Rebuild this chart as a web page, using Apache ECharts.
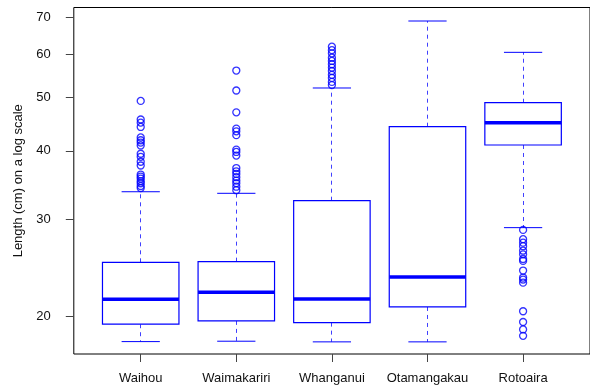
<!DOCTYPE html>
<html>
<head>
<meta charset="utf-8">
<script src="https://cdn.jsdelivr.net/npm/echarts@6/dist/echarts.min.js"></script>
<style>
html,body{margin:0;padding:0;background:#fff;}
#chart{width:590px;height:387px;}
</style>
</head>
<body>
<div id="chart"></div>
<script>
// ---- data ----
const categories = ['Waihou', 'Waimakariri', 'Whanganui', 'Otamangakau', 'Rotoaira'];
const lowerWhisker = [17.96, 17.99, 17.94, 17.94, 28.97];
const quartile1    = [19.32, 19.59, 19.45, 20.77, 40.98];
const medians      = [21.45, 22.09, 21.48, 23.55, 45.0];
const quartile3    = [25.05, 25.12, 32.44, 44.25, 48.93];
const upperWhisker = [33.68, 33.46, 52.05, 68.94, 60.45];

const waihouOut = [49.3, 45.6, 45.0, 44.2, 42.3, 41.8, 41.4, 40.9, 39.5, 39.0, 38.2, 37.6, 36.2, 35.9, 35.6, 35.2, 34.9, 34.5, 34.2];
const waimakaririOut = [56.0, 51.5, 47.0, 43.9, 43.4, 42.7, 40.2, 39.8, 39.2, 37.2, 36.7, 36.3, 35.8, 35.3, 34.9, 34.4, 33.9];
const whanganuiOut = [61.9, 61.0, 60.2, 59.1, 58.3, 57.5, 56.7, 55.9, 55.0, 54.3, 53.4, 52.7];
const otamangakauOut = [];
const rotoairaOut = [28.7, 27.6, 27.2, 26.8, 26.3, 25.9, 25.4, 25.2, 24.2, 23.5, 23.3, 23.0, 20.4, 19.5, 18.9, 18.4];

const yTicks = [20, 30, 40, 50, 60, 70];
const xTicks = [1, 2, 3, 4, 5];

// ---- build ----
const outlierGroups = [waihouOut, waimakaririOut, whanganuiOut, otamangakauOut, rotoairaOut];
const boxData = categories.map((c, i) => [i + 1, lowerWhisker[i], quartile1[i], medians[i], quartile3[i], upperWhisker[i]]);
const outlierData = [];
outlierGroups.forEach((arr, i) => arr.forEach(v => outlierData.push([i + 1, v])));

const BLUE = '#0000FF';
const FONT = 'Liberation Sans, Arial, sans-serif';

function renderBox(params, api) {
  const x = api.value(0);
  const lo = api.value(1), q1 = api.value(2), md = api.value(3), q3 = api.value(4), hi = api.value(5);
  const rawCx = api.coord([x, md])[0];
  const half = api.coord([x + 0.4, md])[0] - rawCx;
  const cx = Math.round(rawCx - 0.5) + 0.5;
  const cap = half / 2;
  const yLo = api.coord([x, lo])[1];
  const yQ1 = api.coord([x, q1])[1];
  const yMd = api.coord([x, md])[1];
  const yQ3 = api.coord([x, q3])[1];
  const yHi = api.coord([x, hi])[1];
  const dashed = { stroke: BLUE, lineWidth: 1, lineDash: [4, 4], opacity: 0.75 };
  const solid = { stroke: BLUE, lineWidth: 1 };
  return {
    type: 'group',
    children: [
      { type: 'line', shape: { x1: cx, y1: yQ3, x2: cx, y2: yHi }, style: dashed },
      { type: 'line', shape: { x1: cx, y1: yQ1, x2: cx, y2: yLo }, style: dashed },
      { type: 'line', shape: { x1: rawCx - cap, y1: yHi, x2: rawCx + cap, y2: yHi }, style: solid },
      { type: 'line', shape: { x1: rawCx - cap, y1: yLo, x2: rawCx + cap, y2: yLo }, style: solid },
      { type: 'rect', shape: { x: rawCx - half, y: yQ3, width: 2 * half, height: yQ1 - yQ3 }, style: { fill: '#fff', stroke: BLUE, lineWidth: 1.2 } },
      { type: 'line', shape: { x1: rawCx - half, y1: yMd, x2: rawCx + half, y2: yMd }, style: { stroke: BLUE, lineWidth: 3.6 } }
    ]
  };
}

const chart = echarts.init(document.getElementById('chart'), null, { renderer: 'canvas' });
chart.setOption({
  animation: false,
  backgroundColor: '#fff',
  grid: { left: 73.8, right: -2, top: 7.5, bottom: 33, show: true, borderColor: '#000', borderWidth: 1, backgroundColor: 'transparent' },
  xAxis: {
    type: 'value', min: 0.3, max: 5.7,
    splitLine: { show: false },
    axisLine: { show: false },
    axisTick: { show: true, inside: false, length: 8, customValues: xTicks, lineStyle: { color: '#444', width: 1 } },
    axisLabel: {
      customValues: xTicks, margin: 18, color: '#111', fontSize: 13, fontFamily: FONT,
      formatter: v => categories[Math.round(v) - 1] || ''
    }
  },
  yAxis: {
    type: 'log', logBase: 10, min: 17.05, max: 72.96,
    name: 'Length (cm) on a log scale', nameLocation: 'middle', nameGap: 49,
    nameTextStyle: { color: '#111', fontSize: 13, fontFamily: FONT },
    splitLine: { show: false },
    axisLine: { show: false },
    axisTick: { show: true, inside: false, length: 8, customValues: yTicks, lineStyle: { color: '#444', width: 1 } },
    axisLabel: {
      customValues: yTicks, margin: 23, color: '#111', fontSize: 13, fontFamily: FONT,
      formatter: v => String(Math.round(v))
    }
  },
  series: [
    {
      type: 'custom', renderItem: renderBox, data: boxData,
      encode: { x: 0, y: [1, 2, 3, 4, 5] }, clip: false, z: 2
    },
    {
      type: 'scatter', data: outlierData, symbol: 'circle', symbolSize: 7, z: 3,
      itemStyle: { color: 'rgba(0,0,0,0)', borderColor: BLUE, borderWidth: 1.3 }
    }
  ]
});
</script>
</body>
</html>
